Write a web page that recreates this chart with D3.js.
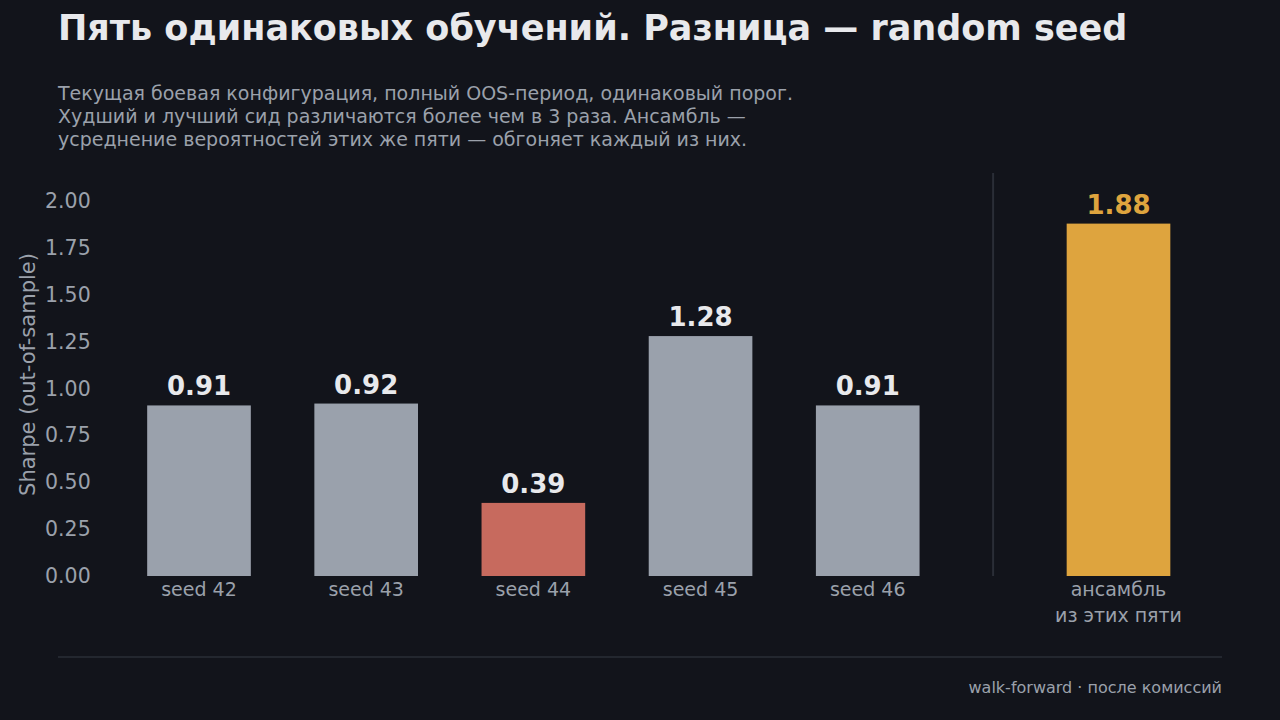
<!DOCTYPE html>
<html>
<head>
<meta charset="utf-8">
<script src="https://cdn.jsdelivr.net/npm/d3@7"></script>
<style>
	html, body { margin: 0; padding: 0; background: #12141b; }
	svg { display: block; font-family: "DejaVu Sans", sans-serif; }
</style>
</head>
<body>
<div id="container"></div>
<script>
const seeds = ["seed 42", "seed 43", "seed 44", "seed 45", "seed 46"];
const seedValues = [0.91, 0.92, 0.39, 1.28, 0.91];
const ensembleLabel = ["ансамбль", "из этих пяти"];
const ensembleValue = 1.88;
const yTicks = [0, 0.25, 0.5, 0.75, 1.0, 1.25, 1.5, 1.75, 2.0];

const W = 1280, H = 720;
const colors = {
	bg: "#12141b",
	bar: "#9aa1ac",
	worst: "#c76a5e",
	ens: "#dea43e",
	text: "#e8e9ec",
	muted: "#9ba1ab",
	rule: "#2a2e37",
};

const svg = d3.select("#container")
	.append("svg")
	.attr("width", W)
	.attr("height", H);

svg.append("rect").attr("width", W).attr("height", H).attr("fill", colors.bg);

// заголовок
svg.append("text")
	.attr("x", 58).attr("y", 40)
	.attr("fill", colors.text)
	.attr("font-size", 35)
	.attr("font-weight", "bold")
	.text("Пять одинаковых обучений. Разница — random seed");

const subtitle = [
	"Текущая боевая конфигурация, полный OOS-период, одинаковый порог.",
	"Худший и лучший сид различаются более чем в 3 раза. Ансамбль —",
	"усреднение вероятностей этих же пяти — обгоняет каждый из них.",
];
svg.append("g").selectAll("text")
	.data(subtitle)
	.join("text")
	.attr("x", 58)
	.attr("y", (d, i) => 100 + i * 23)
	.attr("fill", colors.muted)
	.attr("font-size", 19)
	.text(d => d);

// шкалы
const x = d3.scaleLinear().domain([0, 5.5]).range([199, 1118.5]);
const y = d3.scaleLinear().domain([0, 2.15]).range([576, 173]);
const bw = x(0.62) - x(0);

const yAxis = svg.append("g")
	.attr("transform", `translate(${x(-0.6)},0)`)
	.call(d3.axisLeft(y).tickValues(yTicks).tickFormat(d3.format(".2f")).tickSize(0).tickPadding(0));
yAxis.select(".domain").remove();
yAxis.selectAll("text")
	.attr("fill", colors.muted)
	.attr("font-size", 20.5)
	.attr("font-family", "DejaVu Sans")
	.attr("dx", -8);

svg.append("text")
	.attr("transform", `translate(35,${(y(0) + y(2.15)) / 2}) rotate(-90)`)
	.attr("text-anchor", "middle")
	.attr("fill", colors.muted)
	.attr("font-size", 21)
	.text("Sharpe (out-of-sample)");

// разделитель перед ансамблем
svg.append("line")
	.attr("x1", x(4.75)).attr("x2", x(4.75))
	.attr("y1", y(2.15)).attr("y2", y(0))
	.attr("stroke", colors.rule)
	.attr("stroke-width", 2);

const minV = d3.min(seedValues);
const bars = seeds.map((s, i) => ({ label: [s], value: seedValues[i], pos: i,
	fill: seedValues[i] === minV ? colors.worst : colors.bar, lc: colors.text }));
bars.push({ label: ensembleLabel, value: ensembleValue, pos: 5.5, fill: colors.ens, lc: colors.ens });

const g = svg.append("g");
g.selectAll("rect")
	.data(bars)
	.join("rect")
	.attr("x", d => x(d.pos) - bw / 2)
	.attr("y", d => y(d.value))
	.attr("width", bw)
	.attr("height", d => y(0) - y(d.value))
	.attr("fill", d => d.fill);

g.selectAll("text.val")
	.data(bars)
	.join("text")
	.attr("class", "val")
	.attr("x", d => x(d.pos))
	.attr("y", d => y(d.value) - 10)
	.attr("text-anchor", "middle")
	.attr("font-size", 26)
	.attr("font-weight", "bold")
	.attr("fill", d => d.lc)
	.text(d => d.value.toFixed(2));

const cat = g.selectAll("text.cat")
	.data(bars)
	.join("text")
	.attr("class", "cat")
	.attr("x", d => x(d.pos))
	.attr("y", 596)
	.attr("text-anchor", "middle")
	.attr("font-size", 19)
	.attr("fill", colors.muted);
cat.selectAll("tspan")
	.data(d => d.label.map(l => ({ l, x: x(d.pos) })))
	.join("tspan")
	.attr("x", d => d.x)
	.attr("dy", (d, i) => i === 0 ? 0 : 26)
	.text(d => d.l);

// подвал
svg.append("line")
	.attr("x1", 58).attr("x2", 1222)
	.attr("y1", 657).attr("y2", 657)
	.attr("stroke", colors.rule)
	.attr("stroke-width", 1.5);

svg.append("text")
	.attr("x", 1222).attr("y", 693)
	.attr("text-anchor", "end")
	.attr("fill", colors.muted)
	.attr("font-size", 16)
	.text("walk-forward · после комиссий");
</script>
</body>
</html>
